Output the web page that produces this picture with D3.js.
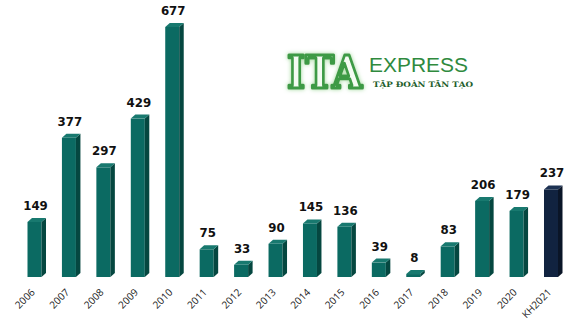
<!DOCTYPE html>
<html><head><meta charset="utf-8">
<script src="https://cdn.jsdelivr.net/npm/d3@7"></script>
<style>body{margin:0;background:#fff}svg{display:block}</style>
</head><body>
<script>
const categories = ["2006","2007","2008","2009","2010","2011","2012","2013","2014","2015","2016","2017","2018","2019","2020","KH2021"];
const values = [149,377,297,429,677,75,33,90,145,136,39,8,83,206,179,237];
const valueLabels = ["149","377","297","429","677","75","33","90","145","136","39","8","83","206","179","237"];

const W = 572, H = 329;
const svg = d3.select("body").append("svg").attr("width", W).attr("height", H);

const x = d3.scalePoint().domain(categories).range([34.5, 551]);
const y = d3.scaleLinear().domain([0, 677]).range([277, 27]);
const bw = 14, dx = 4.5, dy = 4;

const colors = c => c === "KH2021"
  ? {front:"#112340", side:"#0a1527", top:"#1d3253"}
  : {front:"#0b6a62", side:"#054740", top:"#18796f"};

const g = svg.append("g");
categories.forEach((c,i) => {
  const cx = x(c), x0 = cx - bw/2, yt = y(values[i]), yb = y(0);
  const col = colors(c);
  g.append("rect").attr("x", x0).attr("y", yt).attr("width", bw).attr("height", yb-yt).attr("fill", col.front);
  g.append("path").attr("d", `M${x0+bw},${yt}L${x0+bw+dx},${yt-dy}L${x0+bw+dx},${yb-dy}L${x0+bw},${yb}Z`).attr("fill", col.side);
  g.append("path").attr("d", `M${x0},${yt}L${x0+bw},${yt}L${x0+bw+dx},${yt-dy}L${x0+dx},${yt-dy}Z`).attr("fill", col.top);
  g.append("text").attr("x", cx+1).attr("y", yt-dy-8).attr("text-anchor","middle")
    .attr("font-family","DejaVu Sans").attr("font-weight","bold").attr("font-size","11.8px").attr("fill","#111")
    .text(valueLabels[i]);
  g.append("text").attr("transform", `translate(${cx+1},${293}) rotate(-45)`).attr("text-anchor","end")
    .attr("font-family","Open Sans").attr("font-size","10px").attr("fill","#222").text(c);
});

// logo
const defs = svg.append("defs");
const f = defs.append("filter").attr("id","glow").attr("x","-20%").attr("y","-30%").attr("width","140%").attr("height","160%");
f.append("feGaussianBlur").attr("in","SourceAlpha").attr("stdDeviation",2.2).attr("result","b");
f.append("feFlood").attr("flood-color","#9fd89a").attr("result","c");
f.append("feComposite").attr("in","c").attr("in2","b").attr("operator","in").attr("result","g");
const m = f.append("feMerge"); m.append("feMergeNode").attr("in","g"); m.append("feMergeNode").attr("in","SourceGraphic");

svg.append("text").attr("x",287).attr("y",88).attr("textLength",75).attr("lengthAdjust","spacingAndGlyphs")
  .attr("font-family","DejaVu Serif").attr("font-weight","bold").attr("font-size","44px")
  .attr("fill","#f4fbf2").attr("stroke","#3d9a45").attr("stroke-width",3).attr("stroke-linejoin","round")
  .attr("filter","url(#glow)").text("ITA");
svg.append("text").attr("x",369).attr("y",72).attr("textLength",99).attr("lengthAdjust","spacingAndGlyphs")
  .attr("font-family","Liberation Sans").attr("font-size","20px").attr("fill","#2f8a3e").text("EXPRESS");
svg.append("text").attr("x",373).attr("y",87).attr("textLength",100).attr("lengthAdjust","spacingAndGlyphs")
  .attr("font-family","DejaVu Serif").attr("font-weight","bold").attr("font-size","7.5px").attr("fill","#1e5e2c").text("TẬP ĐOÀN TÂN TẠO");
</script>
</body></html>
